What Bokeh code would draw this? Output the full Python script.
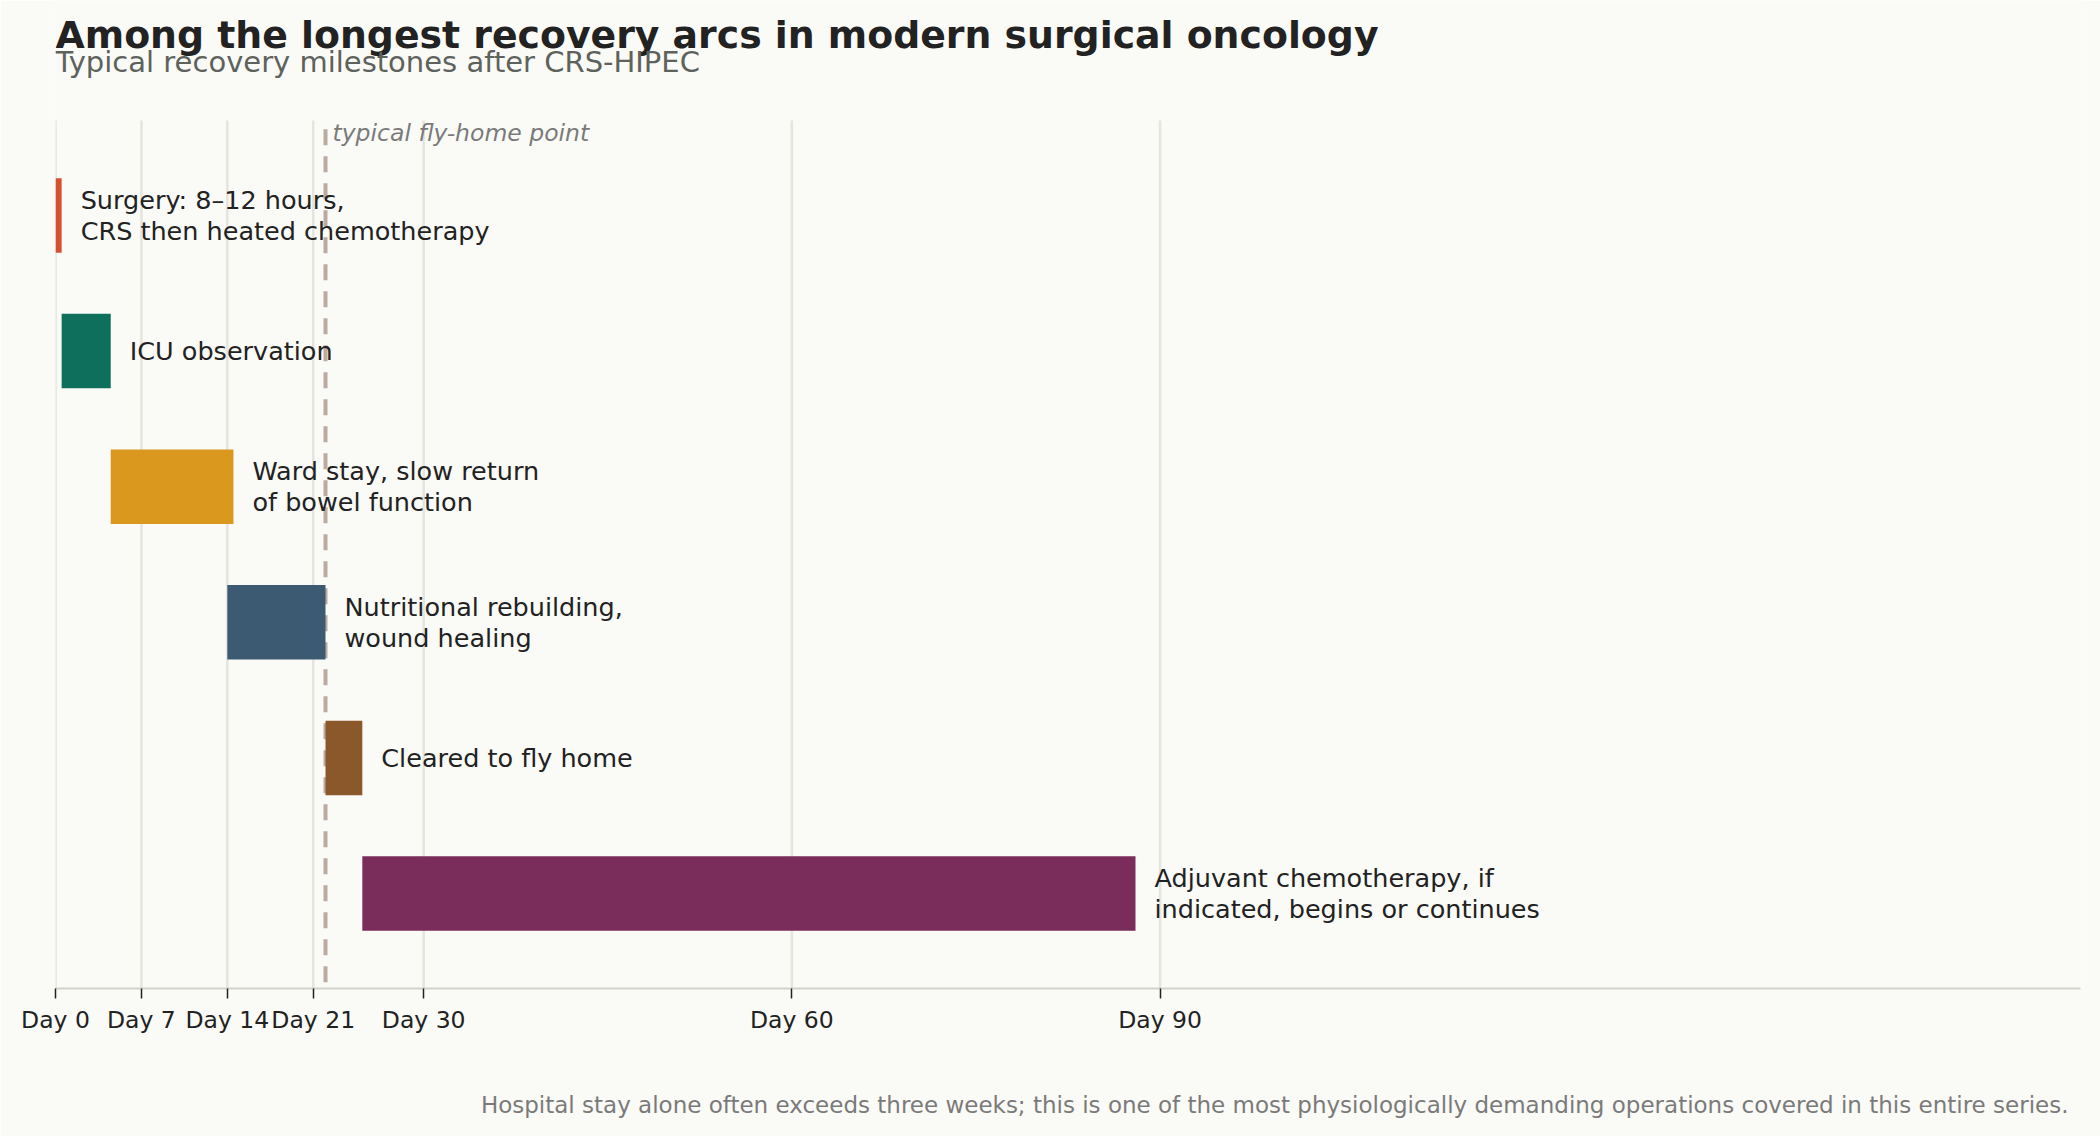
from bokeh.plotting import figure
from bokeh.models import Range1d, FixedTicker, Label, ColumnDataSource, Title
from bokeh.core.properties import value
from bokeh.embed import file_html
from bokeh.resources import INLINE

# ---- data ----
phase_labels = [
    "Surgery: 8\u201312 hours,\nCRS then heated chemotherapy",
    "ICU observation",
    "Ward stay, slow return\nof bowel function",
    "Nutritional rebuilding,\nwound healing",
    "Cleared to fly home",
    "Adjuvant chemotherapy, if\nindicated, begins or continues",
]
phase_start = [0, 0.5, 4.5, 14, 22, 25]
phase_end = [0.5, 4.5, 14.5, 22, 25, 88]
phase_colors = ["#D5502F", "#0E6F5C", "#DA981F", "#3C5A72", "#8B582B", "#7A2C5B"]
rows = [0, 1, 2, 3, 4, 5]

tick_days = [0, 7, 14, 21, 30, 60, 90]
tick_labels = ["Day 0", "Day 7", "Day 14", "Day 21", "Day 30", "Day 60", "Day 90"]
fly_home_day = 22

title_text = "Among the longest recovery arcs in modern surgical oncology"
subtitle_text = "Typical recovery milestones after CRS-HIPEC"
footer_text = ("Hospital stay alone often exceeds three weeks; this is one of the most "
               "physiologically demanding operations covered in this entire series.")

BG = "#FAFAF7"
FONT = "DejaVu Sans"
Y_BOTTOM, Y_TOP, Y_GRID_TOP, Y_DASH_TOP = 5.7, -1.5848, -0.7, -0.636

p = figure(width=2100, height=1136, output_backend="svg", toolbar_location=None,
           x_range=Range1d(0, 165), y_range=Range1d(Y_BOTTOM, Y_TOP),
           y_axis_location=None,
           min_border_left=55, min_border_right=20, min_border_top=0, min_border_bottom=148)
p.background_fill_color = BG
p.border_fill_color = BG
p.outline_line_color = None

# axis
p.xaxis.ticker = FixedTicker(ticks=tick_days)
p.xaxis.major_label_overrides = {d: l for d, l in zip(tick_days, tick_labels)}
p.xaxis.major_label_text_font = FONT
p.xaxis.major_label_text_font_size = "23.5px"
p.xaxis.major_label_text_color = "#222222"
p.xaxis.major_label_standoff = 7
p.xaxis.major_tick_in = 0
p.xaxis.major_tick_out = 10
p.xaxis.major_tick_line_color = "#222222"
p.xaxis.major_tick_line_width = 1.5
p.xaxis.minor_tick_line_color = None
p.xaxis.axis_line_color = "#D2D1CA"
p.xaxis.axis_line_width = 2
# invisible spacer label: pushes the footer panel down
p.xaxis.axis_label = " "
p.xaxis.axis_label_text_font_size = "10px"
p.xaxis.axis_label_text_alpha = 0
p.xaxis.axis_label_standoff = 39
p.xgrid.visible = False
p.ygrid.visible = False

# vertical gridlines (stop at the top of the chart area)
p.segment(x0=tick_days, y0=[Y_BOTTOM] * len(tick_days), x1=tick_days,
          y1=[Y_GRID_TOP] * len(tick_days), line_color="#E5E4DD", line_width=2.5)

# fly-home dashed line (dashes start at the top)
p.segment(x0=[fly_home_day], y0=[Y_DASH_TOP], x1=[fly_home_day], y1=[Y_BOTTOM],
          line_color="#BAAAA0", line_width=4, line_dash="16 11")

src = ColumnDataSource(dict(y=rows, left=phase_start, right=phase_end,
                            color=phase_colors, label=phase_labels))
p.hbar(y="y", left="left", right="right", height=0.55, fill_color="color",
       line_color=None, source=src)

p.text(x="right", y="y", text="label", source=src, x_offset=19,
       text_baseline="middle", text_align="left",
       text_font=value(FONT), text_font_size="25.5px", text_color="#222222",
       text_line_height=1.04)

p.add_layout(Label(x=fly_home_day, y=856, y_units="screen", x_offset=7,
                   text="typical fly-home point", text_font=FONT,
                   text_font_style="italic", text_font_size="23.5px",
                   text_color="#7A7A7A", text_baseline="alphabetic"))

# title and subtitle (inside the frame area, above the chart)
p.add_layout(Label(x=0, y=953.5, x_units="screen", y_units="screen", text=title_text,
                   text_font=FONT, text_font_style="bold", text_font_size="37.8px",
                   text_color="#222222", text_baseline="alphabetic"))
p.add_layout(Label(x=0, y=927, x_units="screen", y_units="screen", text=subtitle_text,
                   text_font=FONT, text_font_size="29px",
                   text_color="#5E625C", text_baseline="alphabetic"))

# footer below the axis
p.add_layout(Title(text=footer_text, align="right", text_font=FONT,
                   text_font_size="23px", text_font_style="normal",
                   text_color="#7A7A7A", standoff=0, offset=12), "below")

open("out.html", "w").write(file_html(p, INLINE))
